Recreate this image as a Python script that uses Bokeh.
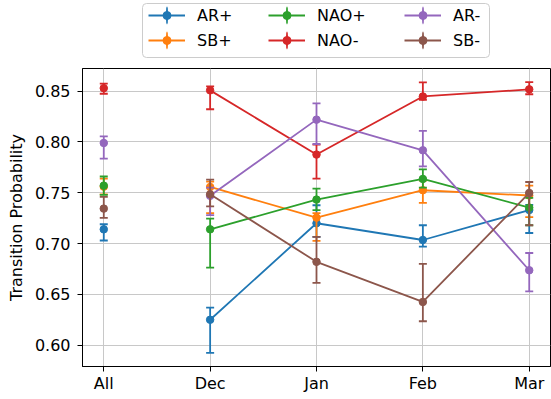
from bokeh.plotting import figure
from bokeh.layouts import column
from bokeh.models import (Range1d, FixedTicker, Legend, LegendItem,
                          ColumnDataSource, PrintfTickFormatter, BoxAnnotation)
from bokeh.embed import file_html
from bokeh.resources import INLINE

# ---- data -------------------------------------------------------------
periods = ["All", "Dec", "Jan", "Feb", "Mar"]
y_ticks = [0.60, 0.65, 0.70, 0.75, 0.80, 0.85]

ar_plus = [0.714, 0.625, 0.720, 0.7035, 0.733]
ar_plus_lo = [0.703, 0.5923, 0.7065, 0.697, 0.7104]
ar_plus_hi = [0.719, 0.637, 0.7377, 0.718, 0.738]

sb_plus = [0.756, 0.7557, 0.7255, 0.7525, 0.7473]
sb_plus_lo = [0.7485, 0.730, 0.7026, 0.740, 0.726]
sb_plus_hi = [0.764, 0.761, 0.730, 0.762, 0.757]

nao_plus = [0.757, 0.714, 0.7433, 0.7636, 0.7354]
nao_plus_lo = [0.748, 0.6764, 0.733, 0.755, 0.718]
nao_plus_hi = [0.766, 0.7246, 0.7541, 0.773, 0.745]

nao_minus = [0.853, 0.8508, 0.7876, 0.8448, 0.8518]
nao_minus_lo = [0.8475, 0.8322, 0.764, 0.8415, 0.847]
nao_minus_hi = [0.8575, 0.8548, 0.7974, 0.8586, 0.859]

ar_minus = [0.799, 0.747, 0.822, 0.7918, 0.6737]
ar_minus_lo = [0.7837, 0.728, 0.798, 0.776, 0.653]
ar_minus_hi = [0.8056, 0.755, 0.838, 0.811, 0.6907]

sb_minus = [0.7344, 0.7485, 0.682, 0.6425, 0.7498]
sb_minus_lo = [0.7252, 0.7367, 0.6612, 0.6235, 0.718]
sb_minus_hi = [0.7459, 0.763, 0.7065, 0.680, 0.7606]

series = [
    ("AR+", "#1f77b4", ar_plus, ar_plus_lo, ar_plus_hi),
    ("SB+", "#ff7f0e", sb_plus, sb_plus_lo, sb_plus_hi),
    ("NAO+", "#2ca02c", nao_plus, nao_plus_lo, nao_plus_hi),
    ("NAO-", "#d62728", nao_minus, nao_minus_lo, nao_minus_hi),
    ("AR-", "#9467bd", ar_minus, ar_minus_lo, ar_minus_hi),
    ("SB-", "#8c564b", sb_minus, sb_minus_lo, sb_minus_hi),
]

# ---- ranges (matplotlib-like 5% margins) ------------------------------
x_idx = list(range(len(periods)))
xmin, xmax = min(x_idx), max(x_idx)
xm = (xmax - xmin) * 0.05
all_lo = min(min(s[3]) for s in series)
all_hi = max(max(s[4]) for s in series)
ym = (all_hi - all_lo) * 0.05

FONT = "DejaVu Sans"
W = 551
LEG_H = 65
MAIN_H = 399 - LEG_H

p = figure(width=W, height=MAIN_H, output_backend="svg", toolbar_location=None,
           x_range=Range1d(xmin - xm, xmax + xm),
           y_range=Range1d(all_lo - ym, all_hi + ym),
           min_border_left=82, min_border_right=1, min_border_top=3,
           min_border_bottom=33)

p.background_fill_color = "white"
p.border_fill_color = "white"
p.outline_line_color = "black"
p.outline_line_width = 1

p.xaxis.ticker = FixedTicker(ticks=x_idx)
p.xaxis.major_label_overrides = {i: lab for i, lab in enumerate(periods)}
p.yaxis.ticker = FixedTicker(ticks=y_ticks)
p.yaxis.formatter = PrintfTickFormatter(format="%.2f")
p.yaxis.axis_label = "Transition Probability"

for ax in (p.xaxis, p.yaxis):
    ax.axis_line_color = "black"
    ax.axis_line_width = 1
    ax.major_tick_line_color = "black"
    ax.major_tick_in = 0
    ax.major_tick_out = 5
    ax.minor_tick_line_color = None
    ax.major_label_text_font = FONT
    ax.major_label_text_font_size = "16px"
    ax.major_label_text_color = "black"
    ax.axis_label_text_font = FONT
    ax.axis_label_text_font_size = "16px"
    ax.axis_label_text_font_style = "normal"
    ax.axis_label_text_color = "black"
p.xaxis.major_label_standoff = 2
p.yaxis.major_label_standoff = 7
p.yaxis.axis_label_standoff = 6

p.xgrid.ticker = FixedTicker(ticks=x_idx)
p.ygrid.ticker = FixedTicker(ticks=y_ticks)
p.grid.grid_line_color = "#c8c8c8"
p.grid.grid_line_width = 1

# ---- legend strip above the plot ---------------------------------------
lf = figure(width=W, height=LEG_H, output_backend="svg", toolbar_location=None,
            x_range=Range1d(xmax + 10, xmax + 11), y_range=Range1d(0, 1),
            min_border=0, x_axis_type=None, y_axis_type=None)
lf.grid.visible = False
lf.outline_line_color = None
lf.background_fill_color = "white"
lf.border_fill_color = "white"

LW = 1.8
items = []
for label, color, vals, lo, hi in series:
    src = ColumnDataSource(dict(x=x_idx, y=vals, lo=lo, hi=hi))
    line_src = ColumnDataSource(dict(x=x_idx[1:], y=vals[1:]))
    p.segment(x0="x", y0="lo", x1="x", y1="hi", source=src,
              line_color=color, line_width=LW)
    p.scatter(x="x", y="lo", source=src, marker="dash", size=8,
              line_color=color, line_width=LW)
    p.scatter(x="x", y="hi", source=src, marker="dash", size=8,
              line_color=color, line_width=LW)
    p.line(x="x", y="y", source=line_src, line_color=color, line_width=LW)
    p.scatter(x="x", y="y", source=src, marker="circle", size=7.5,
              fill_color=color, line_color=color)
    # legend glyphs (only visible inside the legend strip)
    l_line = lf.line(x="x", y="y", source=line_src, line_color=color,
                     line_width=LW)
    l_bar = lf.ellipse(x="x", y="y", source=src, width=0.4, height=18,
                       width_units="screen", height_units="screen",
                       fill_color=None, line_color=color, line_width=LW)
    l_pt = lf.scatter(x="x", y="y", source=src, marker="circle", size=7.5,
                      fill_color=color, line_color=color)
    items.append(LegendItem(label=label, renderers=[l_line, l_bar, l_pt]))

box = BoxAnnotation(left=142, right=489, top=3, bottom=57,
                    left_units="canvas", right_units="canvas",
                    top_units="canvas", bottom_units="canvas",
                    fill_color="white", fill_alpha=0.8,
                    line_color="#cccccc", line_alpha=1.0, line_width=1,
                    border_radius=4)
lf.add_layout(box)

# legend columns (x relative to the plot frame's left edge, which the
# column layout aligns with the main plot)
col_x = [66, 186, 322]
for ci in range(3):
    lg = Legend(items=items[2 * ci: 2 * ci + 2], orientation="vertical",
                location=(col_x[ci], 15), margin=0, padding=0, spacing=5,
                glyph_width=37, glyph_height=20, label_height=20,
                label_standoff=12,
                label_text_font=FONT, label_text_font_size="16px",
                label_text_color="black",
                border_line_color=None, background_fill_alpha=0)
    lf.add_layout(lg)

layout = column(lf, p, spacing=0)
open("out.html", "w").write(file_html(layout, INLINE))
